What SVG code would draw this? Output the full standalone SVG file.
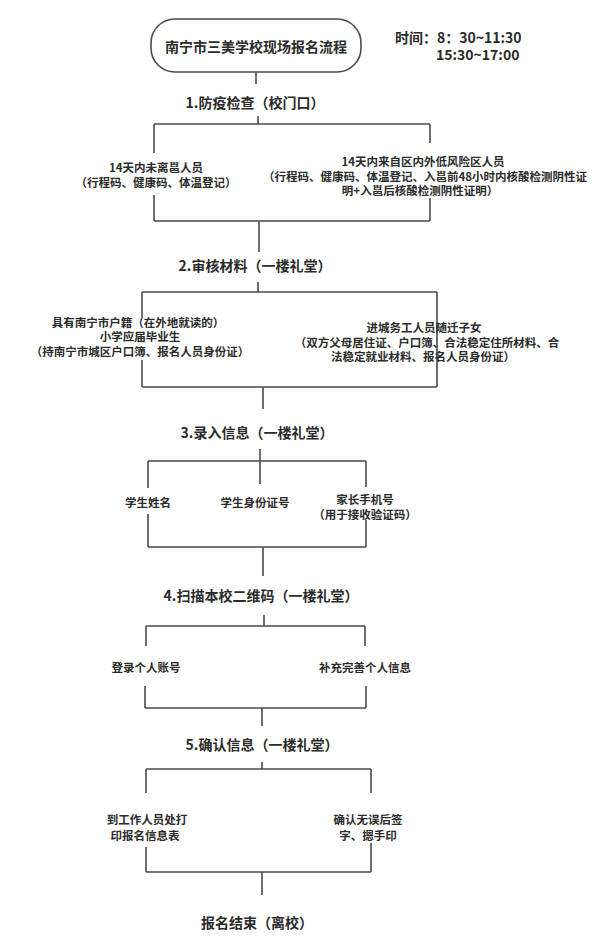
<svg xmlns="http://www.w3.org/2000/svg" width="614" height="947" viewBox="0 0 614 947">
<style>
text{font-family:"Noto Sans CJK SC","Noto Sans",sans-serif;fill:#2b2b2b;text-anchor:middle;dominant-baseline:central}
.t{font-size:14px;font-weight:700}
.s{font-size:11.5px;font-weight:700}
.tm{font-size:14px;font-weight:700;text-anchor:start}
.c{stroke:#4a4a4a;stroke-width:1.6;fill:none}
</style>
<rect width="614" height="947" fill="#fff"/>
<g id="connectors" class="c">
<path d="M256 72V84"/>
<path d="M258 116V124M154 124H430M154 124V153M430 124V143M154 195V221M430 198V221M154 221H430M259 221V252"/>
<path d="M258 282V292M142 292H437M142 292V317M437 292V387M142 360V387M142 387H437M263 387V409"/>
<path d="M260 449V461M148 461H366M148 461V488M260 461V484M366 461V487M148 514V547M366 520V547M148 547H366M263 547V576"/>
<path d="M264 615V626M146 626H365M146 626V646M365 626V646M145 686V708M366 686V708M145 708H366M262 708V726"/>
<path d="M262 762V769M146 769H371M146 769V793M371 769V793M146 847V872M371 843V872M146 872H371M262 872V895"/>
</g>
<g id="start">
<rect x="151" y="19" width="210" height="53" rx="24" fill="#fff" stroke="#4a4a4a" stroke-width="1.6"/>
<text class="t" x="256" y="46">南宁市三美学校现场报名流程</text>
</g>
<g id="time">
<text class="tm" x="395" y="37">时间：8：30~11:30</text>
<text class="tm" x="436" y="54">15:30~17:00</text>
</g>
<g id="step1"><text class="t" x="255" y="102">1.防疫检查（校门口）</text></g>
<g id="s1a">
<text class="s" x="156" y="167">14天内未离邕人员</text>
<text class="s" x="156" y="182">（行程码、健康码、体温登记）</text>
</g>
<g id="s1b">
<text class="s" x="423" y="161">14天内来自区内外低风险区人员</text>
<text class="s" x="425" y="176">（行程码、健康码、体温登记、入邕前48小时内核酸检测阴性证</text>
<text class="s" x="420" y="190">明+入邕后核酸检测阴性证明）</text>
</g>
<g id="step2"><text class="t" x="255" y="265">2.审核材料（一楼礼堂）</text></g>
<g id="s2a">
<text class="s" x="138" y="322">具有南宁市户籍（在外地就读的）</text>
<text class="s" x="140" y="336">小学应届毕业生</text>
<text class="s" x="140" y="351">（持南宁市城区户口簿、报名人员身份证）</text>
</g>
<g id="s2b">
<text class="s" x="424" y="327">进城务工人员随迁子女</text>
<text class="s" x="427" y="342">（双方父母居住证、户口簿、合法稳定住所材料、合</text>
<text class="s" x="423" y="356">法稳定就业材料、报名人员身份证）</text>
</g>
<g id="step3"><text class="t" x="257" y="432">3.录入信息（一楼礼堂）</text></g>
<g id="s3a"><text class="s" x="148" y="502">学生姓名</text></g>
<g id="s3b"><text class="s" x="255" y="502">学生身份证号</text></g>
<g id="s3c">
<text class="s" x="365" y="499">家长手机号</text>
<text class="s" x="365" y="514">（用于接收验证码）</text>
</g>
<g id="step4"><text class="t" x="261" y="595">4.扫描本校二维码（一楼礼堂）</text></g>
<g id="s4a"><text class="s" x="146" y="667">登录个人账号</text></g>
<g id="s4b"><text class="s" x="365" y="667">补充完善个人信息</text></g>
<g id="step5"><text class="t" x="262" y="744">5.确认信息（一楼礼堂）</text></g>
<g id="s5a">
<text class="s" x="147" y="819">到工作人员处打</text>
<text class="s" x="145" y="835">印报名信息表</text>
</g>
<g id="s5b">
<text class="s" x="368" y="819">确认无误后签</text>
<text class="s" x="368" y="835">字、摁手印</text>
</g>
<g id="end"><text class="t" x="257" y="922">报名结束（离校）</text></g>
</svg>
